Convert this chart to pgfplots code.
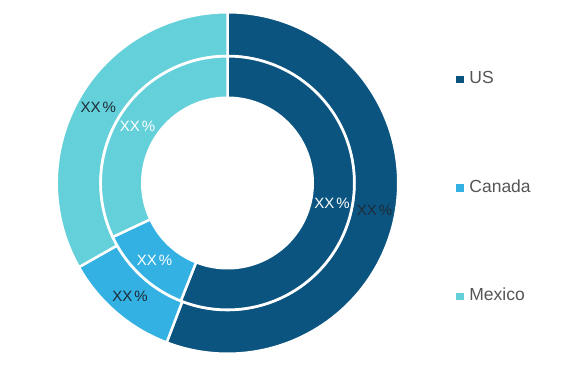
\documentclass[border=0pt]{standalone}
\usepackage{pgfplots}
\usepackage{pgfplotstable}
\pgfplotsset{compat=1.18}
\usepackage{fontspec}
\setmainfont{Liberation Sans}
\definecolor{cUS}{HTML}{0B5480}
\definecolor{cCanada}{HTML}{34B1E3}
\definecolor{cMexico}{HTML}{64D0DA}
\definecolor{txt}{HTML}{555555}
\definecolor{olbl}{HTML}{1E2A36}
\newcommand\lbl{\fontsize{15}{18}\selectfont}

\pgfplotstableread{
name value
US 55.8
Canada 11.0
Mexico 33.2
}\outerdata
\pgfplotstableread{
name value
US 56.0
Canada 12.0
Mexico 32.0
}\innerdata

% #1 table, #2 inner radius, #3 outer radius, #4 label radius, #5 label colour
\newcommand\ring[5]{%
  \pgfplotstablegetrowsof{#1}\pgfmathtruncatemacro\nrows{\pgfplotsretval-1}%
  \def\cum{0}%
  \pgfplotsforeachungrouped \i in {0,...,\nrows}{%
    \pgfplotstablegetelem{\i}{value}\of{#1}\let\val\pgfplotsretval
    \pgfplotstablegetelem{\i}{name}\of{#1}\let\nm\pgfplotsretval
    \pgfmathsetmacro\sa{90-3.6*\cum}%
    \pgfmathsetmacro\ea{90-3.6*(\cum+\val)}%
    \pgfmathsetmacro\ma{(\sa+\ea)/2}%
    \pgfmathsetmacro\cum{\cum+\val}%
    \edef\cmd{\noexpand\filldraw[fill=c\nm, draw=white, line width=2.5pt, shift={(axis cs:227.5,188)}]
      (\sa:#3pt) arc[start angle=\sa, end angle=\ea, radius=#3pt] -- (\ea:#2pt)
      arc[start angle=\ea, end angle=\sa, radius=#2pt] -- cycle;
      \noexpand\path[shift={(axis cs:227.5,188)}] (\ma:#4pt) node[font=\noexpand\lbl, text=#5, inner sep=0pt] {XX\noexpand\hspace{2pt}\noexpand\%};}%
    \cmd
  }%
}

\begin{document}
\begin{tikzpicture}
\useasboundingbox (0,0) rectangle (576pt,371pt);
\begin{axis}[
  at={(0pt,0pt)}, anchor=south west,
  scale only axis, width=576pt, height=371pt,
  xmin=0, xmax=576, ymin=0, ymax=371,
  hide axis,
  legend cell align=left,
  legend style={draw=none, fill=none, at={(axis cs:453,303)}, anchor=north west,
    font=\fontsize{17.5}{20}\selectfont, text=txt, row sep=90.5pt,
    nodes={inner sep=1pt, text height=12.5pt, text depth=3.5pt},
    /tikz/every odd column/.append style={column sep=5pt}},
  legend image code/.code={\fill[#1] (0pt,-3.4pt) rectangle (6.8pt,3.4pt);},
]
\ring{\outerdata}{127}{170.75}{149.5}{olbl}
\ring{\innerdata}{85.25}{126.75}{106.5}{white}
\addlegendimage{cUS, fill=cUS}
\addlegendentry{US}
\addlegendimage{cCanada, fill=cCanada}
\addlegendentry{Canada}
\addlegendimage{cMexico, fill=cMexico}
\addlegendentry{Mexico}
\end{axis}
\end{tikzpicture}
\end{document}
